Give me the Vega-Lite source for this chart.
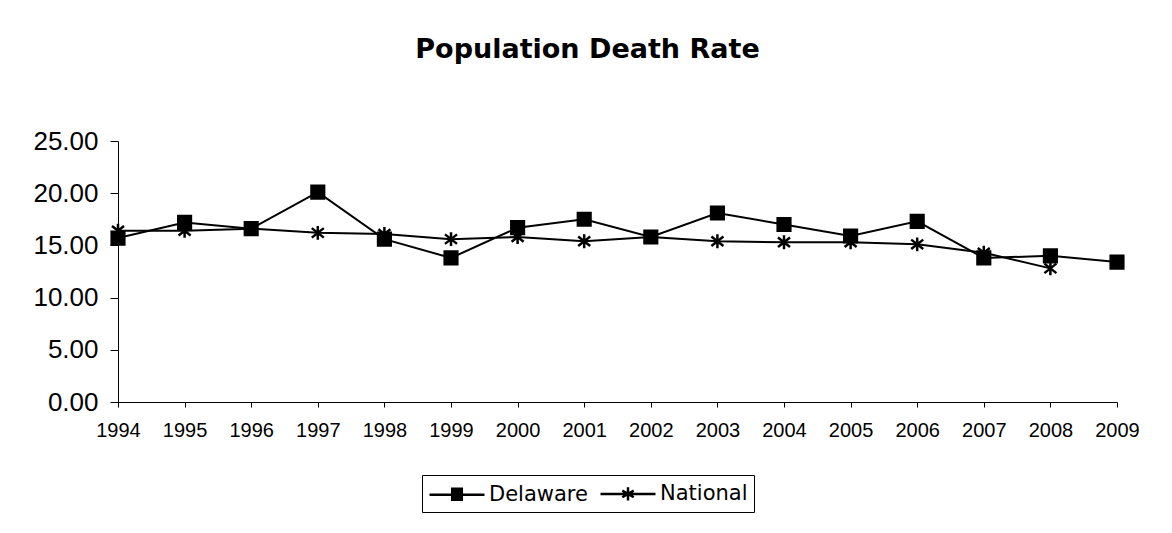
{
  "$schema": "https://vega.github.io/schema/vega-lite/v6.json",
  "width": 999,
  "height": 261,
  "autosize": {"type": "none"},
  "padding": {"left": 118, "top": 141, "right": 55, "bottom": 131},
  "background": "white",
  "title": {
    "text": "Population Death Rate",
    "font": "DejaVu Sans",
    "fontSize": 27,
    "fontWeight": "bold",
    "color": "black",
    "anchor": "middle",
    "baseline": "alphabetic",
    "dx": -30,
    "offset": 43
  },
  "config": {
    "view": {"stroke": null},
    "axis": {
      "domainColor": "black",
      "tickColor": "black",
      "labelColor": "black",
      "labelFont": "Liberation Sans",
      "grid": false,
      "title": null
    }
  },
  "data": {
    "values": [
      {"year": 1994, "series": "Delaware", "rate": 15.7},
      {"year": 1995, "series": "Delaware", "rate": 17.2},
      {"year": 1996, "series": "Delaware", "rate": 16.6},
      {"year": 1997, "series": "Delaware", "rate": 20.1},
      {"year": 1998, "series": "Delaware", "rate": 15.6},
      {"year": 1999, "series": "Delaware", "rate": 13.8},
      {"year": 2000, "series": "Delaware", "rate": 16.7},
      {"year": 2001, "series": "Delaware", "rate": 17.5},
      {"year": 2002, "series": "Delaware", "rate": 15.8},
      {"year": 2003, "series": "Delaware", "rate": 18.1},
      {"year": 2004, "series": "Delaware", "rate": 17.0},
      {"year": 2005, "series": "Delaware", "rate": 15.9},
      {"year": 2006, "series": "Delaware", "rate": 17.3},
      {"year": 2007, "series": "Delaware", "rate": 13.8},
      {"year": 2008, "series": "Delaware", "rate": 14.0},
      {"year": 2009, "series": "Delaware", "rate": 13.4},
      {"year": 1994, "series": "National", "rate": 16.4},
      {"year": 1995, "series": "National", "rate": 16.4},
      {"year": 1996, "series": "National", "rate": 16.6},
      {"year": 1997, "series": "National", "rate": 16.2},
      {"year": 1998, "series": "National", "rate": 16.1},
      {"year": 1999, "series": "National", "rate": 15.6},
      {"year": 2000, "series": "National", "rate": 15.8},
      {"year": 2001, "series": "National", "rate": 15.4},
      {"year": 2002, "series": "National", "rate": 15.8},
      {"year": 2003, "series": "National", "rate": 15.4},
      {"year": 2004, "series": "National", "rate": 15.3},
      {"year": 2005, "series": "National", "rate": 15.3},
      {"year": 2006, "series": "National", "rate": 15.1},
      {"year": 2007, "series": "National", "rate": 14.3},
      {"year": 2008, "series": "National", "rate": 12.8}
    ]
  },
  "encoding": {
    "x": {
      "field": "year",
      "type": "quantitative",
      "scale": {"domain": [1994, 2009], "nice": false, "zero": false},
      "axis": {
        "values": [1994, 1995, 1996, 1997, 1998, 1999, 2000, 2001, 2002, 2003, 2004, 2005, 2006, 2007, 2008, 2009],
        "format": "d",
        "labelFontSize": 20,
        "tickSize": 5,
        "labelPadding": 13,
        "labelFlush": false,
        "labelOverlap": false
      }
    },
    "y": {
      "field": "rate",
      "type": "quantitative",
      "scale": {"domain": [0, 25], "nice": false},
      "axis": {
        "values": [0, 5, 10, 15, 20, 25],
        "format": ".2f",
        "labelFontSize": 26,
        "tickSize": 8,
        "labelPadding": 12
      }
    }
  },
  "resolve": {"scale": {"shape": "independent"}},
  "layer": [
    {
      "mark": {"type": "line", "color": "black", "strokeWidth": 2},
      "encoding": {"detail": {"field": "series"}}
    },
    {
      "mark": {"type": "point", "filled": true, "color": "black", "stroke": "black", "strokeWidth": 2.5, "size": 160, "opacity": 1},
      "encoding": {
        "shape": {
          "field": "series",
          "type": "nominal",
          "scale": {
            "domain": ["Delaware", "National"],
            "range": ["square", "M0,-1.1V1.1M-0.95,-0.75L0.95,0.75M-0.95,0.75L0.95,-0.75"]
          },
          "legend": null
        }
      }
    },
    {
      "mark": {"type": "point", "filled": false, "color": "black", "strokeWidth": 2.5, "size": 484, "opacity": 0},
      "encoding": {
        "shape": {
          "field": "series",
          "type": "nominal",
          "scale": {
            "domain": ["Delaware", "National"],
            "range": [
              "M-1,0H4M0.95,-0.55H2.05M0.95,-0.35H2.05M0.95,-0.15H2.05M0.95,0.05H2.05M0.95,0.25H2.05M0.95,0.45H2.05",
              "M-1,0H4M1.5,-0.6V0.6M0.98,-0.3L2.02,0.3M0.98,0.3L2.02,-0.3"
            ]
          },
          "legend": {
            "title": null,
            "orient": "none",
            "legendX": 304,
            "legendY": 334,
            "direction": "horizontal",
            "columns": 2,
            "strokeColor": "black",
            "fillColor": "white",
            "padding": 6,
            "labelFont": "DejaVu Sans",
            "labelFontSize": 21,
            "labelColor": "black",
            "symbolSize": 484,
            "symbolOpacity": 1,
            "symbolStrokeWidth": 2.5,
            "symbolStrokeColor": "black",
            "labelOffset": 36,
            "columnPadding": 7
          }
        }
      }
    }
  ]
}
